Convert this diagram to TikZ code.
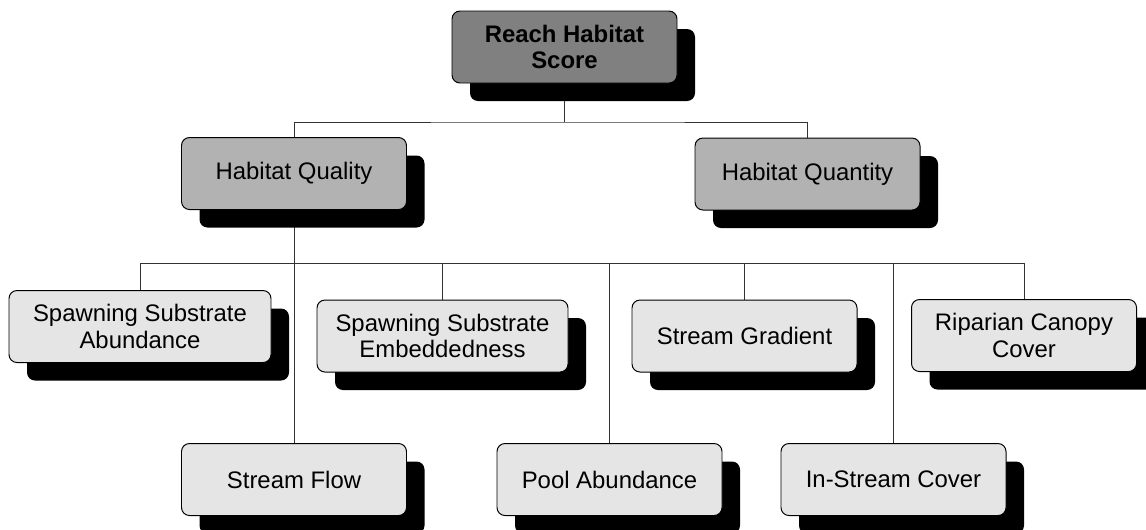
\documentclass[tikz,border=0pt]{standalone}
\usepackage{fontspec}
\setmainfont{Liberation Sans}
\usetikzlibrary{shadows,backgrounds}

\def \px{0.025cm}
\def \boxSizeX{225}
\def \boxSizeY{72}
\def \scoreCenterX{564.5}
\def \scoreCenterY{47}
\def \qualityCenterX{294}
\def \qualityCenterY{173.5}
\def \quantityCenterX{807.5}
\def \quantityCenterY{174}
\def \abundanceCenterX{140}
\def \abundanceCenterY{326.5}
\def \abundanceSizeX{262}
\def \embeddednessCenterX{442.5}
\def \embeddednessCenterY{336}
\def \embeddednessSizeX{251}
\def \gradientCenterX{744.5}
\def \gradientCenterY{336}
\def \riparianCenterX{1024}
\def \riparianCenterY{335.5}
\def \flowCenterX{294}
\def \flowCenterY{479.5}
\def \poolCenterX{609.5}
\def \poolCenterY{479.5}
\def \instreamCenterX{893.5}
\def \instreamCenterY{479.5}
\def \scoreBarY{122}
\def \factorBarY{263}

\tikzset{
  habbox/.style={draw=black, line width=0.7pt, rounded corners=0.2cm, align=center, inner sep=0pt,
    font=\fontsize{17}{19}\selectfont,
    minimum width=\boxSizeX*\px, minimum height=\boxSizeY*\px,
    general shadow={fill=black, shadow xshift=18*\px, shadow yshift=-18*\px}},
  scorebox/.style={habbox, fill=black!50, font=\fontsize{17}{19}\selectfont\bfseries},
  groupbox/.style={habbox, fill=black!30},
  factorbox/.style={habbox, fill=black!10},
  link/.style={draw=black!80, line width=0.6pt}
}

\begin{document}
\begin{tikzpicture}[x=\px, y=-\px]
\useasboundingbox (0,0) rectangle (1146,529);
% ---- Score
\node [scorebox] (score) at (\scoreCenterX, \scoreCenterY) {Reach Habitat\\Score};
% ---- Habitat groups
\node [groupbox] (quality) at (\qualityCenterX, \qualityCenterY) {Habitat Quality};
\node [groupbox] (quantity) at (\quantityCenterX, \quantityCenterY) {Habitat Quantity};
% ---- Factors, upper row
\node [factorbox, minimum width=\abundanceSizeX*\px] (abundance) at (\abundanceCenterX, \abundanceCenterY) {Spawning Substrate\\Abundance};
\node [factorbox, minimum width=\embeddednessSizeX*\px] (embeddedness) at (\embeddednessCenterX, \embeddednessCenterY) {Spawning Substrate\\Embeddedness};
\node [factorbox] (gradient) at (\gradientCenterX, \gradientCenterY) {Stream Gradient};
\node [factorbox] (riparian) at (\riparianCenterX, \riparianCenterY) {Riparian Canopy\\Cover};
% ---- Factors, lower row
\node [factorbox] (flow) at (\flowCenterX, \flowCenterY) {Stream Flow};
\node [factorbox] (pool) at (\poolCenterX, \poolCenterY) {Pool Abundance};
\node [factorbox] (instream) at (\instreamCenterX, \instreamCenterY) {In-Stream Cover};

% Links
\begin{scope}[on background layer]
\coordinate (scoreBar) at (\scoreCenterX, \scoreBarY);
\coordinate (factorBar) at (\qualityCenterX, \factorBarY);
\draw [link] (score.south) -- (scoreBar);
\draw [link] (quality.north) |- (scoreBar) -| (quantity.north);
\draw [link] (quality.south) -- (factorBar);
\foreach \factor in {abundance, embeddedness, gradient, riparian, flow, pool, instream}
  \draw [link] (factorBar) -| (\factor.north);
\end{scope}
\end{tikzpicture}
\end{document}
